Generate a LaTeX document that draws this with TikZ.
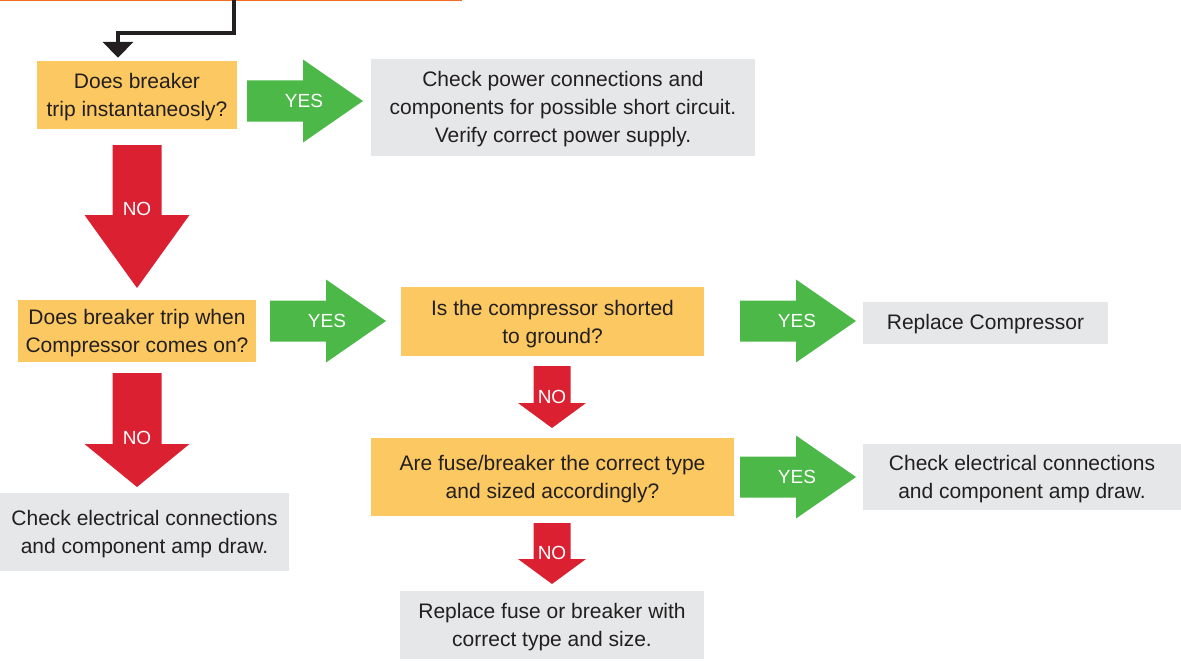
\documentclass[tikz,border=0pt]{standalone}
\usepackage{fontspec}
\setmainfont{Liberation Sans}
\usepackage{tikz}
\usetikzlibrary{positioning,arrows.meta,calc}
\definecolor{trbyellow}{HTML}{FCC862}
\definecolor{trbgrey}{HTML}{E6E7E8}
\definecolor{trbgreen}{HTML}{4CB848}
\definecolor{trbred}{HTML}{DB2032}
\definecolor{trbink}{HTML}{231F20}
\definecolor{trborange}{HTML}{F26B21}
% fat YES arrow: name, left x, centre y
\newcommand{\yesarrow}[3]{%
  \fill[trbgreen] (#2,#3-20.5) -- ++(56,0) -- ++(0,-21) -- ++(60,41.5)
    -- ++(-60,41.5) -- ++(0,-21) -- ++(-56,0) -- cycle;
  \node[albl] (#1) at (#2+57,#3) {YES};}
% fat NO arrow: name, centre x, top, head base, tip, shaft half, head half
\newcommand{\noarrow}[7]{%
  \fill[trbred] (#2-#6,#3) -- (#2+#6,#3) -- (#2+#6,#4) -- (#2+#7,#4)
    -- (#2,#5) -- (#2-#7,#4) -- (#2-#6,#4) -- cycle;
  \node[albl] (#1) at (#2,#4-6) {NO};}

\begin{document}
\begin{tikzpicture}[x=1pt, y=-1pt,
  font=\fontsize{21}{28}\selectfont, text=trbink,
  qbox/.style={fill=trbyellow, align=center, inner sep=0pt, text depth=-2pt},
  abox/.style={fill=trbgrey, align=center, inner sep=0pt, text depth=-2pt},
  albl/.style={font=\fontsize{19}{19}\selectfont, text=white, inner sep=0pt},
  flow/.style={draw=trbink, line width=4pt, -{Triangle[width=30pt,length=16pt]}}]
\useasboundingbox (0,0) rectangle (1181,661);
\draw[trborange, line width=3pt] (0,0) -- (462,0);
\coordinate (entry) at (234,0);
% questions
\node[qbox, minimum width=200pt, minimum height=68pt] (q1) at (137,95) {Does breaker\\trip instantaneosly?};
\node[qbox, minimum width=238pt, minimum height=62pt] (q2) at (137,331) {Does breaker trip when\\Compressor comes on?};
\node[qbox, minimum width=303pt, minimum height=69pt] (q3) at (552.5,321.5) {Is the compressor shorted\\to ground?};
\node[qbox, minimum width=363pt, minimum height=78pt] (q4) at (552.5,477) {Are fuse/breaker the correct type\\and sized accordingly?};
% actions
\node[abox, minimum width=384pt, minimum height=97pt, text depth=1.5pt] (r1) at (563,107.5) {Check power connections and\\components for possible short circuit.\\Verify correct power supply.};
\node[abox, minimum width=245pt, minimum height=42pt, text depth=2pt] (r2) at (985.5,323) {Replace Compressor};
\node[abox, minimum width=318pt, minimum height=66pt] (r3) at (1022,477) {Check electrical connections\\and component amp draw.};
\node[abox, minimum width=289pt, minimum height=78pt] (r4) at (144.5,532) {Check electrical connections\\and component amp draw.};
\node[abox, minimum width=304pt, minimum height=68pt] (r5) at (552,625) {Replace fuse or breaker with\\correct type and size.};
% connectors
\draw[flow] (entry) -- (234,33) -| ([xshift=-19pt,yshift=3pt]q1.north);
\yesarrow{yes1}{247}{101}
\yesarrow{yes2}{270}{321}
\yesarrow{yes3}{740}{321}
\yesarrow{yes4}{740}{477}
\noarrow{no1}{137}{145}{215}{288}{24.5}{52.5}
\noarrow{no2}{137}{373}{444}{487}{24.5}{52.5}
\noarrow{no3}{552}{366}{403}{428}{18.5}{34}
\noarrow{no4}{552}{523}{559}{584}{18.5}{34}
\end{tikzpicture}
\end{document}
